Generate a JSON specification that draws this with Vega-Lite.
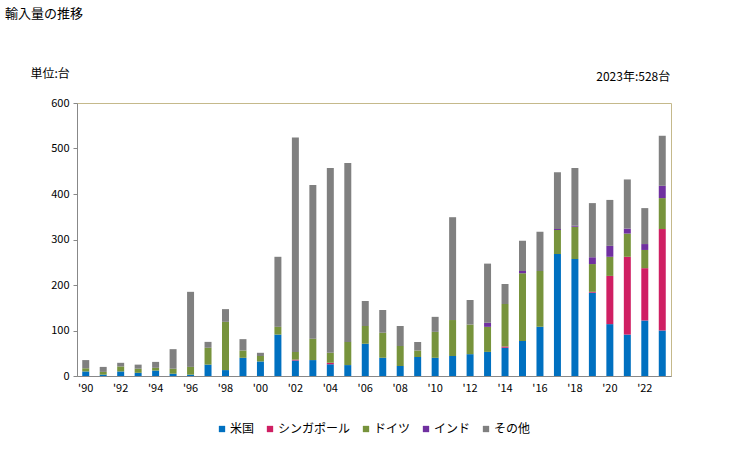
{
  "$schema": "https://vega.github.io/schema/vega-lite/v6.json",
  "width": 594,
  "height": 273,
  "autosize": "none",
  "padding": {"left": 77, "top": 103, "right": 58, "bottom": 74},
  "background": "white",
  "title": {"text": "輸入量の推移", "anchor": "start", "frame": "group", "dx": -72, "offset": 46, "fontSize": 13, "fontWeight": "normal", "font": "Noto Sans CJK JP", "color": "#000000"},
  "config": {
    "font": "Noto Sans CJK JP",
    "view": {"stroke": "#c5b98b", "strokeWidth": 1}
  },
  "datasets": {
    "imports": [
      {"year": 1990, "米国": 10, "シンガポール": 0, "ドイツ": 7, "インド": 0, "その他": 18},
      {"year": 1991, "米国": 3, "シンガポール": 0, "ドイツ": 6, "インド": 0, "その他": 11},
      {"year": 1992, "米国": 10, "シンガポール": 0, "ドイツ": 11, "インド": 0, "その他": 8},
      {"year": 1993, "米国": 7, "シンガポール": 0, "ドイツ": 9, "インド": 0, "その他": 9},
      {"year": 1994, "米国": 12, "シンガポール": 0, "ドイツ": 6, "インド": 0, "その他": 13},
      {"year": 1995, "米国": 5, "シンガポール": 0, "ドイツ": 11, "インド": 0, "その他": 43},
      {"year": 1996, "米国": 3, "シンガポール": 0, "ドイツ": 17, "インド": 0, "その他": 165},
      {"year": 1997, "米国": 25, "シンガポール": 0, "ドイツ": 37, "インド": 0, "その他": 13},
      {"year": 1998, "米国": 13, "シンガポール": 0, "ドイツ": 106, "インド": 0, "その他": 28},
      {"year": 1999, "米国": 40, "シンガポール": 0, "ドイツ": 16, "インド": 0, "その他": 25},
      {"year": 2000, "米国": 32, "シンガポール": 0, "ドイツ": 12, "インド": 0, "その他": 7},
      {"year": 2001, "米国": 91, "シンガポール": 0, "ドイツ": 17, "インド": 0, "その他": 154},
      {"year": 2002, "米国": 34, "シンガポール": 2, "ドイツ": 17, "インド": 0, "その他": 471},
      {"year": 2003, "米国": 35, "シンガポール": 0, "ドイツ": 47, "インド": 0, "その他": 338},
      {"year": 2004, "米国": 26, "シンガポール": 3, "ドイツ": 22, "インド": 0, "その他": 406},
      {"year": 2005, "米国": 24, "シンガポール": 0, "ドイツ": 51, "インド": 0, "その他": 393},
      {"year": 2006, "米国": 71, "シンガポール": 0, "ドイツ": 39, "インド": 0, "その他": 55},
      {"year": 2007, "米国": 40, "シンガポール": 0, "ドイツ": 55, "インド": 0, "その他": 50},
      {"year": 2008, "米国": 22, "シンガポール": 0, "ドイツ": 44, "インド": 0, "その他": 44},
      {"year": 2009, "米国": 42, "シンガポール": 0, "ドイツ": 14, "インド": 0, "その他": 19},
      {"year": 2010, "米国": 40, "シンガポール": 0, "ドイツ": 57, "インド": 0, "その他": 33},
      {"year": 2011, "米国": 44, "シンガポール": 0, "ドイツ": 79, "インド": 0, "その他": 226},
      {"year": 2012, "米国": 48, "シンガポール": 0, "ドイツ": 65, "インド": 0, "その他": 54},
      {"year": 2013, "米国": 53, "シンガポール": 0, "ドイツ": 55, "インド": 9, "その他": 130},
      {"year": 2014, "米国": 62, "シンガポール": 3, "ドイツ": 93, "インド": 0, "その他": 44},
      {"year": 2015, "米国": 77, "シンガポール": 0, "ドイツ": 149, "インド": 5, "その他": 66},
      {"year": 2016, "米国": 108, "シンガポール": 0, "ドイツ": 123, "インド": 0, "その他": 86},
      {"year": 2017, "米国": 268, "シンガポール": 0, "ドイツ": 53, "インド": 2, "その他": 125},
      {"year": 2018, "米国": 257, "シンガポール": 0, "ドイツ": 71, "インド": 2, "その他": 127},
      {"year": 2019, "米国": 183, "シンガポール": 2, "ドイツ": 61, "インド": 15, "その他": 119},
      {"year": 2020, "米国": 114, "シンガポール": 106, "ドイツ": 42, "インド": 24, "その他": 101},
      {"year": 2021, "米国": 91, "シンガポール": 171, "ドイツ": 51, "インド": 11, "その他": 108},
      {"year": 2022, "米国": 122, "シンガポール": 115, "ドイツ": 40, "インド": 13, "その他": 79},
      {"year": 2023, "米国": 100, "シンガポール": 223, "ドイツ": 68, "インド": 27, "その他": 110}
    ],
    "note": [
      {"year": 2023, "top": 600, "label": "2023年:528台"}
    ]
  },
  "layer": [
    {
      "data": {"name": "imports"},
      "transform": [
        {"fold": ["米国", "シンガポール", "ドイツ", "インド", "その他"], "as": ["country", "value"]},
        {"window": [{"op": "row_number", "as": "stack_rank"}], "groupby": ["year"]}
      ],
      "mark": {"type": "bar"},
      "encoding": {
        "x": {
          "field": "year", "type": "ordinal",
          "scale": {"paddingInner": 0.6, "paddingOuter": 0.3},
          "axis": {
            "title": null, "ticks": false, "labelAngle": 0,
            "labelExpr": "datum.value % 2 == 0 ? \"'\" + substring(toString(datum.value), 2, 4) : ''",
            "labelFontSize": 11, "labelColor": "#000000", "labelPadding": 6,
            "domainColor": "#888888", "labelFont": "Noto Sans CJK JP"
          }
        },
        "y": {
          "field": "value", "type": "quantitative", "stack": "zero",
          "scale": {"domain": [0, 600]},
          "axis": {
            "values": [0, 100, 200, 300, 400, 500, 600],
            "grid": false, "title": "単位:台", "titleAngle": 0, "titleAlign": "left", "titleBaseline": "top",
            "titleX": -47, "titleY": -35, "titleFontSize": 12, "titleFontWeight": "normal", "titleColor": "#000000",
            "titleFont": "Noto Sans CJK JP",
            "labelFontSize": 11, "labelColor": "#000000", "labelPadding": 4,
            "tickColor": "#888888", "tickSize": 4, "domainColor": "#888888"
          }
        },
        "color": {
          "field": "country", "type": "nominal",
          "sort": ["米国", "シンガポール", "ドイツ", "インド", "その他"],
          "scale": {"domain": ["米国", "シンガポール", "ドイツ", "インド", "その他"], "range": ["#0070c0", "#cf1f63", "#77933c", "#7030a0", "#808080"]},
          "legend": {
            "title": null, "orient": "none", "direction": "horizontal", "legendX": 139, "legendY": 320,
            "symbolType": "square", "symbolSize": 40, "symbolStrokeWidth": 0, "labelFontSize": 12, "labelColor": "#000000",
            "columnPadding": 9, "labelOffset": 2, "labelFont": "Noto Sans CJK JP"
          }
        },
        "order": {"field": "stack_rank", "type": "quantitative", "sort": "ascending"}
      }
    },
    {
      "data": {"name": "note"},
      "mark": {"type": "text", "align": "right", "baseline": "alphabetic", "dx": 8, "dy": -22, "fontSize": 12, "font": "Noto Sans CJK JP", "color": "#000000"},
      "encoding": {
        "x": {"field": "year", "type": "ordinal"},
        "y": {"field": "top", "type": "quantitative"},
        "text": {"field": "label"}
      }
    }
  ]
}
